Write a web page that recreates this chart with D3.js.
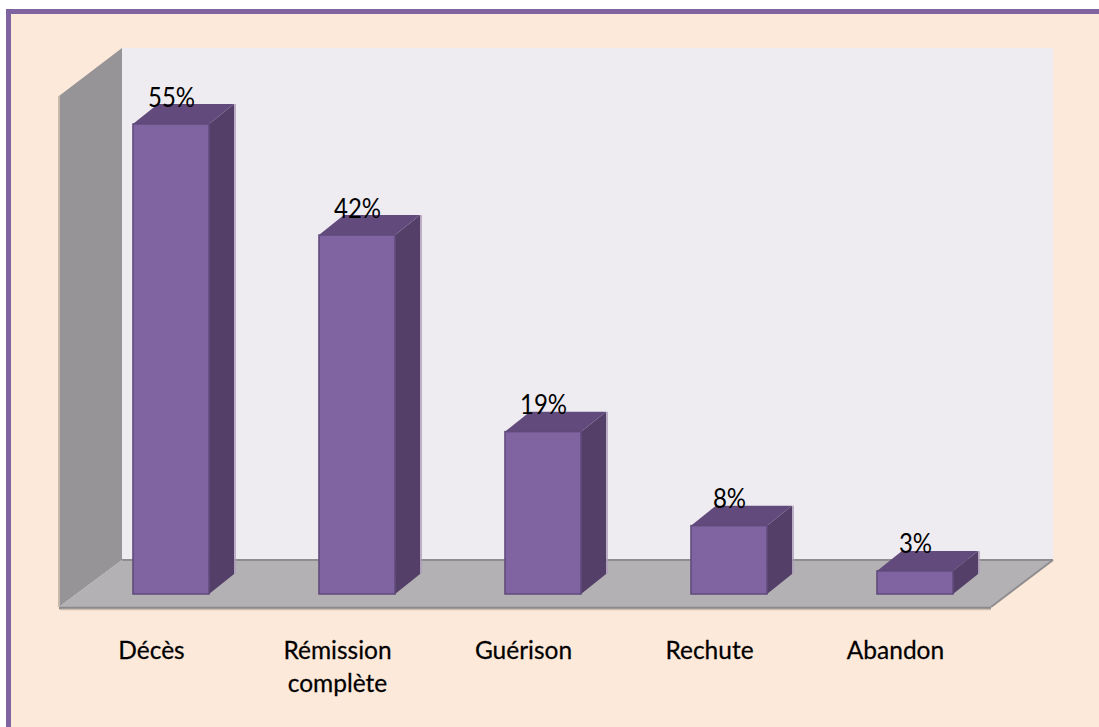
<!DOCTYPE html>
<html><head><meta charset="utf-8">
<script src="https://cdn.jsdelivr.net/npm/d3@7"></script>
<style>html,body{margin:0;padding:0;background:#fff;overflow:hidden}svg{display:block}</style>
</head><body><div id="chart"></div>
<script>
const categories = ["Décès", "Rémission complète", "Guérison", "Rechute", "Abandon"];
const values = [55, 42, 19, 8, 2.7];
const valueLabels = ["55%", "42%", "19%", "8%", "3%"];
const labelLines = [["Décès"], ["Rémission", "complète"], ["Guérison"], ["Rechute"], ["Abandon"]];

const W = 1099, H = 727;
const svg = d3.select("#chart").append("svg").attr("width", W).attr("height", H);
const fontFam = "Lato,'Open Sans',sans-serif";

// frame
svg.append("rect").attr("x", 8.5).attr("y", 11.5).attr("width", 1300).attr("height", 800)
  .attr("fill", "#fde9d9").attr("stroke", "#8064a2").attr("stroke-width", 5);

const x = d3.scaleBand().domain(categories).range([78, 1008]).paddingInner(0.591).paddingOuter(0.2955);
const y = d3.scaleLinear().domain([0, 55]).range([594, 124]);
const line = d3.line();

// chart planes
const floorFL = [59, 607], floorFR = [991, 607], floorBR = [1053, 560], floorBL = [122, 560];
const wallTopBack = [122, 48], wallTopFront = [59, 96];

svg.append("rect").attr("x", floorBL[0]).attr("y", wallTopBack[1]).attr("width", floorBR[0] - floorBL[0]).attr("height", floorBL[1] - wallTopBack[1]).attr("fill", "#eeecf1");
svg.append("path").attr("d", line([wallTopFront, wallTopBack, floorBL, floorFL]) + "Z").attr("fill", "#969497");
svg.append("path").attr("d", line([floorFL, floorBL, floorBR, floorFR]) + "Z").attr("fill", "#b3b1b4");
svg.append("path").attr("d", line([floorBL, floorBR])).attr("stroke", "#8f8d90").attr("stroke-width", 2).attr("fill", "none");
svg.append("path").attr("d", line([[59, 608], [991, 608]])).attr("stroke", "#8a8a8a").attr("stroke-width", 2.5).attr("fill", "none");
svg.append("path").attr("d", line([floorFR, floorBR])).attr("stroke", "#8f8d90").attr("stroke-width", 2).attr("fill", "none");
svg.append("path").attr("d", line([[59, 96], [59, 607]])).attr("stroke", "#c9b9ad").attr("stroke-width", 2).attr("fill", "none");
svg.append("path").attr("d", line([[60, 609.5], [991, 609.5]])).attr("stroke", "#cdbfb4").attr("stroke-width", 1.5).attr("fill", "none");

// bars
const dx = 25, dy = -20;
const bars = svg.selectAll("g.bar").data(categories.map((c, i) => ({c, v: values[i], label: valueLabels[i], lines: labelLines[i]}))).join("g").attr("class", "bar");
bars.append("path").attr("d", d => {
  const r = x(d.c) + x.bandwidth() + dx + 1;
  return line([[r, y(d.v) + dy], [r, y(0) + dy]]);
}).attr("stroke", "#ae9fbb").attr("stroke-width", 1.5).attr("fill", "none");
bars.append("path").attr("d", d => {
  const r = x(d.c) + x.bandwidth(), t = y(d.v), b = y(0);
  return line([[r, t], [r + dx, t + dy], [r + dx, b + dy], [r, b]]) + "Z";
}).attr("fill", "#533f68");
bars.append("path").attr("d", d => {
  const l = x(d.c), r = l + x.bandwidth(), t = y(d.v);
  return line([[l, t], [l + dx, t + dy], [r + dx, t + dy], [r, t]]) + "Z";
}).attr("fill", "#624b7c");
bars.append("rect").attr("x", d => x(d.c)).attr("y", d => y(d.v)).attr("width", x.bandwidth()).attr("height", d => y(0) - y(d.v))
  .attr("fill", "#8064a2").attr("stroke", "#5f4a7a").attr("stroke-width", 1.5);

// value labels
bars.append("text")
  .attr("transform", d => `translate(${x(d.c) + x.bandwidth() / 2 + 0.5},${y(d.v) - 17.5}) scale(1,1.13)`)
  .attr("text-anchor", "middle").attr("font-family", fontFam).attr("font-size", 24).attr("fill", "#000")
  .text(d => d.label);

// category labels
const lx = d3.scaleBand().domain(categories).range([58, 988]);
bars.each(function(d) {
  d3.select(this).selectAll("text.cat").data(d.lines).join("text").attr("class", "cat")
    .attr("transform", (_, i) => `translate(${lx(d.c) + lx.bandwidth() / 2 + 0.5},${659 + i * 33}) scale(1,1.05)`)
    .attr("text-anchor", "middle").attr("font-family", fontFam).attr("font-size", 24.5).attr("fill", "#000")
    .attr("stroke", "#000").attr("stroke-width", 0.25)
    .text(t => t);
});
</script></body></html>
